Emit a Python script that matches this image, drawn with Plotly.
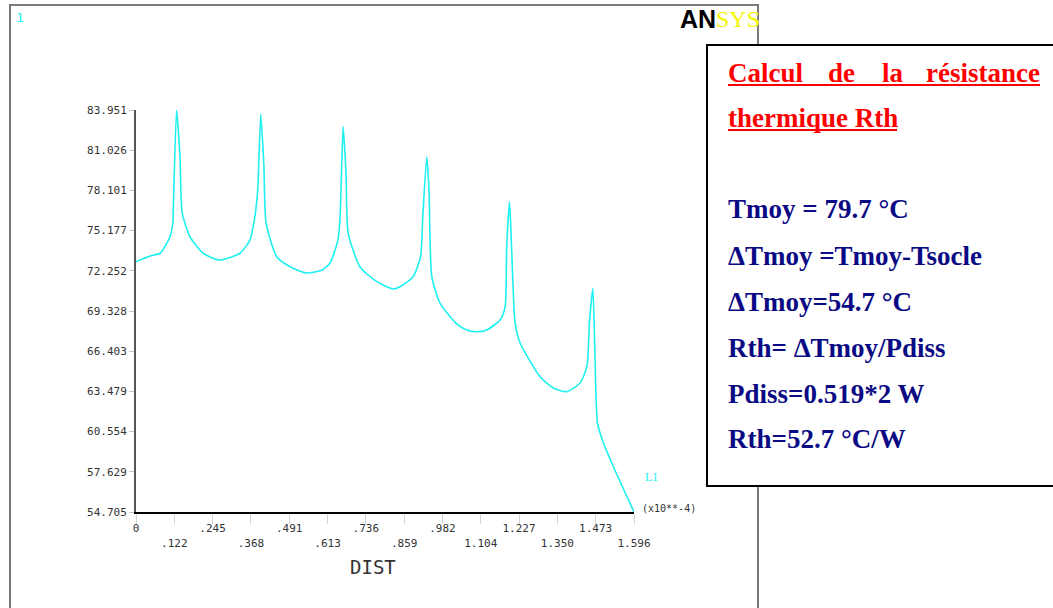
import plotly.graph_objects as go

# ---------------- data ----------------
dist = [0.000, 0.045, 0.077, 0.109, 0.118, 0.120, 0.130, 0.141, 0.148, 0.173,
        0.215, 0.269, 0.333, 0.365, 0.381, 0.390, 0.400, 0.410, 0.417, 0.451,
        0.494, 0.547, 0.596, 0.622, 0.647, 0.654, 0.660, 0.664, 0.673, 0.680,
        0.718, 0.772, 0.824, 0.846, 0.888, 0.912, 0.919, 0.932, 0.939, 0.948,
        0.974, 1.026, 1.060, 1.092, 1.124, 1.167, 1.183, 1.188, 1.197, 1.204,
        1.215, 1.231, 1.295, 1.337, 1.380, 1.423, 1.445, 1.453, 1.464, 1.471,
        1.479, 1.498, 1.530, 1.596]
temp = [72.91, 73.33, 73.53, 74.73, 75.73, 77.04, 83.95, 80.55, 76.46, 74.73,
        73.53, 73.04, 73.53, 74.49, 76.19, 78.13, 83.66, 79.80, 75.73, 73.28,
        72.55, 72.09, 72.31, 72.82, 74.49, 76.17, 80.53, 82.74, 79.37, 75.00,
        72.53, 71.46, 70.93, 71.09, 71.82, 73.28, 76.19, 80.55, 78.13, 71.82,
        69.91, 68.43, 67.95, 67.82, 67.95, 68.67, 69.64, 74.01, 77.28, 73.77,
        68.46, 67.00, 64.55, 63.73, 63.46, 64.09, 65.28, 68.46, 70.98, 66.00,
        61.18, 59.73, 58.00, 54.705]

xtick_vals = [0.0, 0.1228, 0.2455, 0.3683, 0.491, 0.6138, 0.7365, 0.8593,
              0.982, 1.1048, 1.2275, 1.3503, 1.473, 1.596]
xtick_labels = ["0", ".122", ".245", ".368", ".491", ".613", ".736", ".859",
                ".982", "1.104", "1.227", "1.350", "1.473", "1.596"]
ytick_vals = [54.705, 57.629, 60.554, 63.479, 66.403, 69.328, 72.252,
              75.177, 78.101, 81.026, 83.951]
ytick_labels = ["54.705", "57.629", "60.554", "63.479", "66.403", "69.328",
                "72.252", "75.177", "78.101", "81.026", "83.951"]

title_words = ["Calcul", "de", "la", "résistance"]
title_line2 = "thermique Rth"
info_lines = ["Tmoy = 79.7 °C", "ΔTmoy =Tmoy-Tsocle", "ΔTmoy=54.7 °C",
              "Rth= ΔTmoy/Pdiss", "Pdiss=0.519*2 W", "Rth=52.7 °C/W"]

# ---------------- layout helpers (pixel -> paper) ----------------
W, H = 1053, 608
def PX(x):
    return x / W
def PY(y):
    return 1 - y / H

x_left, x_right, y_top, y_bot = 136, 634, 110, 512

# alternate tick label rows
xt_text = [t if i % 2 == 0 else "<br>" + t for i, t in enumerate(xtick_labels)]

CYAN = "#1ef0f0"
mono = "DejaVu Sans Mono"

fig = go.Figure()
fig.add_trace(go.Scatter(x=dist, y=temp, mode="lines",
                         line=dict(color=CYAN, width=1.6, shape="spline", smoothing=0.6),
                         cliponaxis=False, showlegend=False,
                         hoverinfo="x+y"))

fig.update_layout(
    width=W, height=H, autosize=False,
    margin=dict(l=0, r=0, t=0, b=0, pad=0, autoexpand=False),
    paper_bgcolor="white", plot_bgcolor="white",
    xaxis=dict(domain=[PX(x_left), PX(x_right)], range=[0, 1.596],
               automargin=False,
               tickmode="array", tickvals=xtick_vals, ticktext=xt_text,
               showgrid=False, zeroline=False, showline=True,
               linecolor="black", linewidth=2,
               ticks="outside", ticklen=10, tickcolor="#d4d4d4", tickwidth=1,
               ticklabelstandoff=-5,
               tickfont=dict(family=mono, size=11, color="#333333")),
    yaxis=dict(domain=[PY(y_bot), PY(y_top)], range=[54.705, 83.951],
               automargin=False,
               tickmode="array", tickvals=ytick_vals, ticktext=ytick_labels,
               showgrid=False, zeroline=False, showline=True,
               linecolor="#555555", linewidth=2,
               ticks="outside", ticklen=5, tickcolor="#c8c8c8", tickwidth=1,
               tickfont=dict(family=mono, size=11, color="#333333")),
)

shapes = [
    # ANSYS window frame
    dict(type="rect", xref="paper", yref="paper",
         x0=PX(10), x1=PX(758), y0=PY(5), y1=PY(640),
         line=dict(color="#7a7a7a", width=2), layer="above"),
    # text box
    dict(type="rect", xref="paper", yref="paper",
         x0=PX(707), x1=PX(1070), y0=PY(45), y1=PY(486),
         fillcolor="white", line=dict(color="black", width=2), layer="above"),
    # underlines
    dict(type="line", xref="paper", yref="paper",
         x0=PX(728), x1=PX(1040), y0=PY(85), y1=PY(85),
         line=dict(color="#ff0000", width=2.2), layer="above"),
    dict(type="line", xref="paper", yref="paper",
         x0=PX(728), x1=PX(897), y0=PY(130), y1=PY(130),
         line=dict(color="#ff0000", width=2.2), layer="above"),
]
fig.update_layout(shapes=shapes)

ann = []
def A(text, x, y, xanchor="left", yanchor="middle", **font):
    ann.append(dict(text=text, x=PX(x), y=PY(y), xref="paper", yref="paper",
                    xanchor=xanchor, yanchor=yanchor, showarrow=False,
                    font=font))

A("1", 14, 18, family=mono, size=13, color=CYAN)
A("<b>AN</b>", 718, 19, xanchor="right", family="Liberation Sans", size=25, color="black")
A("SYS", 714, 19, xanchor="left", family="Liberation Serif", size=24, color="#f5f500")
A("L1", 643, 477, family="Liberation Serif", size=12, color=CYAN)
A("(x10**-4)", 640, 508, family=mono, size=10, color="#333333")
A("DIST", 373, 567, xanchor="center", family=mono, size=19, color="#333333")

red = dict(family="Liberation Serif", size=27, color="#ff0000")
A("<b>%s</b>" % title_words[0], 726, 73, **red)
A("<b>%s</b>" % title_words[1], 826, 73, **red)
A("<b>%s</b>" % title_words[2], 880, 73, **red)
A("<b>%s</b>" % title_words[3], 1042, 73, xanchor="right", **red)
A("<b>%s</b>" % title_line2, 726, 118, **red)

blue = dict(family="Liberation Serif", size=27, color="#0a0a85")
for txt, yc in zip(info_lines, [209, 256, 302.5, 347.5, 394, 439]):
    A("<b>%s</b>" % txt, 726, yc, **blue)

fig.update_layout(annotations=ann)
fig.write_html("out.html",
               config={"displayModeBar": False},
               post_script="document.body.style.margin='0';"
                           "document.body.style.overflow='hidden';")
